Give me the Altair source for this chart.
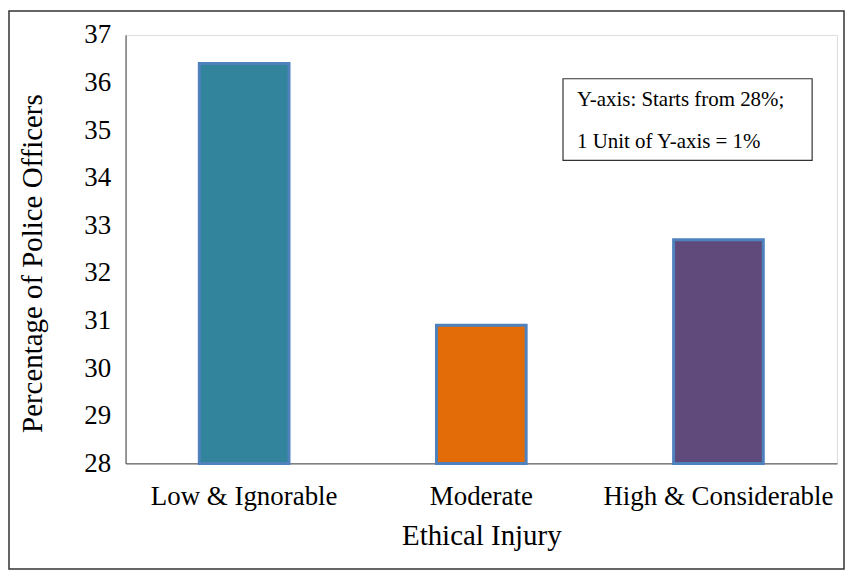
import altair as alt
import pandas as pd

categories = ["Low & Ignorable", "Moderate", "High & Considerable"]
values = [36.4, 30.9, 32.7]
colors = ["#31849B", "#E36C09", "#604A7B"]
y_ticks = [28, 29, 30, 31, 32, 33, 34, 35, 36, 37]
note_lines = ["Y-axis: Starts from 28%;", "1 Unit of Y-axis = 1%"]

df = pd.DataFrame({"cat": categories, "val": values, "base": [28] * 3})

FONT = "Liberation Serif"
W, H = 714, 430
LBL, TTL, NOTE = 27, 29, 21

x_enc = alt.X("cat:N", sort=categories, title="Ethical Injury",
              scale=alt.Scale(paddingInner=0, paddingOuter=0),
              axis=alt.Axis(labelAngle=0, labelFontSize=LBL, titleFontSize=TTL,
                            labelFont=FONT, titleFont=FONT, labelColor="#000",
                            titleColor="#000", titleFontWeight="normal",
                            ticks=False, labelPadding=20, titlePadding=12,
                            domainColor="#404040", labelLimit=400))
y_enc = alt.Y("val:Q", title="Percentage of Police Officers",
              scale=alt.Scale(domain=[28, 37], nice=False, zero=False),
              axis=alt.Axis(values=y_ticks, grid=False, ticks=False, labelFontSize=LBL,
                            titleFontSize=TTL, labelFont=FONT, titleFont=FONT,
                            labelColor="#000", titleColor="#000",
                            titleFontWeight="normal", labelPadding=15,
                            titlePadding=36, titleY=229, domainColor="#404040"))

bars = alt.Chart(df).mark_bar(size=90, stroke="#4F81BD", strokeWidth=3).encode(
    x=x_enc,
    y=y_enc,
    y2="base:Q",
    color=alt.Color("cat:N", sort=categories,
                    scale=alt.Scale(domain=categories, range=colors), legend=None),
)

frame = alt.Chart(pd.DataFrame({"a": [0]})).mark_rect(
    fill=None, stroke="#333", strokeWidth=1.5).encode(
    x=alt.value(-117), x2=alt.value(W + 7), y=alt.value(-24), y2=alt.value(H + 106))

note_box = alt.Chart(pd.DataFrame({"a": [0]})).mark_rect(
    fill="white", stroke="#333", strokeWidth=1.2).encode(
    x=alt.value(439), x2=alt.value(689), y=alt.value(44), y2=alt.value(126))

note_df = pd.DataFrame({"t": note_lines, "i": [0, 1]})
note_text = alt.Chart(note_df).mark_text(
    align="left", baseline="middle", fontSize=NOTE, font=FONT, color="#000").encode(
    x=alt.value(453),
    y=alt.Y("i:Q", scale=alt.Scale(domain=[0, 1], range=[65, 107]), axis=None),
    text="t:N",
)

chart = alt.layer(bars, note_box, note_text, frame).resolve_scale(y="independent").properties(
    width=W, height=H,
    autosize=alt.AutoSizeParams(type="none"),
    padding={"left": 118, "top": 26, "right": 9, "bottom": 112},
).configure_view(stroke="#404040", strokeWidth=1).configure(background="white")

chart.save("out.html", embed_options={"renderer": "svg", "actions": False})
